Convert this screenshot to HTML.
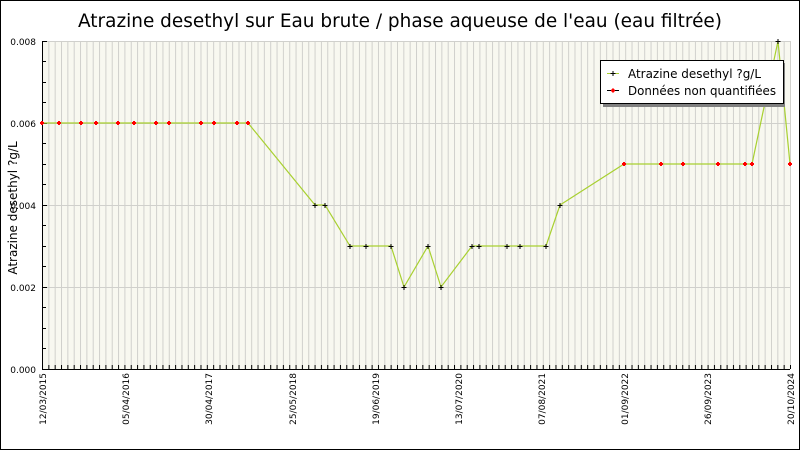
<!DOCTYPE html>
<html><head><meta charset="utf-8"><style>
html,body{margin:0;padding:0;background:#fff;}
svg{display:block;font-family:"DejaVu Sans","Liberation Sans",sans-serif;}
</style></head><body>
<svg width="800" height="450" viewBox="0 0 800 450" xmlns="http://www.w3.org/2000/svg">
<defs>
<pattern id="vg" x="42" y="0" width="6.339" height="450" patternUnits="userSpaceOnUse">
<rect x="0" y="0" width="1" height="450" fill="#d0d0cc"/>
</pattern>
<pattern id="bt" x="42" y="0" width="6.339" height="450" patternUnits="userSpaceOnUse">
<rect x="0" y="0" width="1" height="450" fill="#000"/>
</pattern>
</defs>
<rect x="0.5" y="0.5" width="799" height="449" fill="#fff" stroke="#000"/>
<text x="78" y="27" font-size="19" textLength="644" lengthAdjust="spacingAndGlyphs" fill="#000">Atrazine desethyl sur Eau brute / phase aqueuse de l'eau (eau filtrée)</text>
<rect x="42" y="41" width="748" height="328" fill="#f8f8f0"/>
<rect x="42" y="41" width="749" height="328" fill="url(#vg)"/>
<g stroke="#d0d0cc" stroke-width="1">
<line x1="42" y1="41.5" x2="790" y2="41.5"/>
<line x1="42" y1="123.5" x2="790" y2="123.5"/>
<line x1="42" y1="205.5" x2="790" y2="205.5"/>
<line x1="42" y1="287.5" x2="790" y2="287.5"/>
</g>
<rect x="42" y="365" width="749" height="4" fill="url(#bt)"/>
<g stroke="#000" stroke-width="1">
<line x1="42.5" y1="41" x2="42.5" y2="369"/>
<line x1="42" y1="369.5" x2="790" y2="369.5"/>
<line x1="42" y1="41.5" x2="47" y2="41.5"/>
<line x1="42" y1="61.5" x2="46" y2="61.5"/>
<line x1="42" y1="82.5" x2="46" y2="82.5"/>
<line x1="42" y1="102.5" x2="46" y2="102.5"/>
<line x1="42" y1="123.5" x2="47" y2="123.5"/>
<line x1="42" y1="143.5" x2="46" y2="143.5"/>
<line x1="42" y1="164.5" x2="46" y2="164.5"/>
<line x1="42" y1="184.5" x2="46" y2="184.5"/>
<line x1="42" y1="205.5" x2="47" y2="205.5"/>
<line x1="42" y1="225.5" x2="46" y2="225.5"/>
<line x1="42" y1="246.5" x2="46" y2="246.5"/>
<line x1="42" y1="266.5" x2="46" y2="266.5"/>
<line x1="42" y1="287.5" x2="47" y2="287.5"/>
<line x1="42" y1="307.5" x2="46" y2="307.5"/>
<line x1="42" y1="328.5" x2="46" y2="328.5"/>
<line x1="42" y1="348.5" x2="46" y2="348.5"/>
</g>
<g font-size="9" fill="#000" text-anchor="end">
<text x="36" y="45">0.008</text>
<text x="36" y="127">0.006</text>
<text x="36" y="209">0.004</text>
<text x="36" y="291">0.002</text>
<text x="36" y="373">0.000</text>
</g>
<text transform="translate(17,208) rotate(-90)" font-size="12" text-anchor="middle">Atrazine desethyl ?g/L</text>
<g font-size="9" fill="#000" text-anchor="end">
<text transform="translate(46,373) rotate(-90)">12/03/2015</text>
<text transform="translate(129,373) rotate(-90)">05/04/2016</text>
<text transform="translate(212,373) rotate(-90)">30/04/2017</text>
<text transform="translate(296,373) rotate(-90)">25/05/2018</text>
<text transform="translate(379,373) rotate(-90)">19/06/2019</text>
<text transform="translate(462,373) rotate(-90)">13/07/2020</text>
<text transform="translate(545,373) rotate(-90)">07/08/2021</text>
<text transform="translate(628,373) rotate(-90)">01/09/2022</text>
<text transform="translate(711,373) rotate(-90)">26/09/2023</text>
<text transform="translate(794,373) rotate(-90)">20/10/2024</text>
</g>
<polyline fill="none" stroke="#a8d030" stroke-width="1.2" points="42,123 59,123 81,123 96,123 118,123 134,123 156,123 169,123 201,123 214,123 237,123 248,123 315,205 325,205 350,246 366,246 391,246 404,287 428,246 441,287 472,246 479,246 507,246 520,246 546,246 560,205 624,164 661,164 683,164 718,164 745,164 752,164 778,41 790,164"/>
<g stroke="#f00" stroke-width="2">
<path d="M42,121v4M40,123h4 M59,121v4M57,123h4 M81,121v4M79,123h4 M96,121v4M94,123h4 M118,121v4M116,123h4 M134,121v4M132,123h4 M156,121v4M154,123h4 M169,121v4M167,123h4 M201,121v4M199,123h4 M214,121v4M212,123h4 M237,121v4M235,123h4 M248,121v4M246,123h4 M624,162v4M622,164h4 M661,162v4M659,164h4 M683,162v4M681,164h4 M718,162v4M716,164h4 M745,162v4M743,164h4 M752,162v4M750,164h4 M790,162v4M788,164h4"/>
</g>
<g stroke="#000" stroke-width="1">
<path d="M315,203v5M312.5,205.5h5 M325,203v5M322.5,205.5h5 M350,244v5M347.5,246.5h5 M366,244v5M363.5,246.5h5 M391,244v5M388.5,246.5h5 M404,285v5M401.5,287.5h5 M428,244v5M425.5,246.5h5 M441,285v5M438.5,287.5h5 M472,244v5M469.5,246.5h5 M479,244v5M476.5,246.5h5 M507,244v5M504.5,246.5h5 M520,244v5M517.5,246.5h5 M546,244v5M543.5,246.5h5 M560,203v5M557.5,205.5h5 M778,39v5M775.5,41.5h5"/>
</g>
<rect x="603" y="63" width="182" height="44" fill="#808080"/>
<rect x="600.5" y="60.5" width="183" height="43" fill="#fff" stroke="#000"/>
<line x1="607" y1="73.5" x2="619" y2="73.5" stroke="#a8d030"/>
<path d="M613,71v5M610.5,73.5h5" stroke="#000"/>
<line x1="607" y1="90.5" x2="619" y2="90.5" stroke="#000"/>
<path d="M613,88.5v4M611,90.5h4" stroke="#f00" stroke-width="2"/>
<text x="628" y="78" font-size="12" textLength="133" lengthAdjust="spacingAndGlyphs">Atrazine desethyl ?g/L</text>
<text x="628" y="95" font-size="12" textLength="148" lengthAdjust="spacingAndGlyphs">Données non quantifiées</text>
</svg>
</body></html>
